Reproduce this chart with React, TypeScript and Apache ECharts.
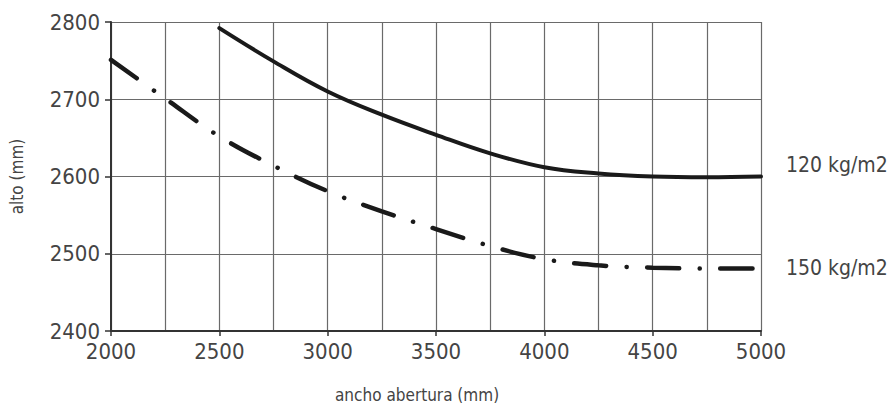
import React, { useEffect, useRef } from "react";
import * as echarts from "echarts";

const xValues120 = [2500, 2750, 3000, 3250, 3500, 3750, 4000, 4250, 4500, 4750, 5000];
const yValues120 = [2792, 2749, 2710, 2680, 2654, 2630, 2612, 2604, 2600, 2599, 2600];
const xValues150 = [2000, 2250, 2500, 2750, 3000, 3250, 3500, 3750, 4000, 4250, 4500, 4750, 5000];
const yValues150 = [2751, 2701, 2652, 2614, 2581, 2555, 2532, 2510, 2493, 2485, 2482, 2481, 2481];
const seriesNames = ["120 kg/m2", "150 kg/m2"];
const xAxisName = "ancho abertura (mm)";
const yAxisName = "alto (mm)";

const FONT = "'DejaVu Sans Condensed', 'Liberation Sans Narrow', 'Liberation Sans', sans-serif";
const TEXT = "#444";
const GRID = "#6a6a6a";
const LINE = "#1a1a1a";

export default function App() {
  const ref = useRef<HTMLDivElement>(null);
  useEffect(() => {
    if (!ref.current) return;
    const chart = echarts.init(ref.current, null, { renderer: "svg" });
    const d120 = xValues120.map((x, i) => [x, yValues120[i]]);
    const d150 = xValues150.map((x, i) => [x, yValues150[i]]);
    chart.setOption({
      animation: false,
      backgroundColor: "#fff",
      grid: { left: 111, right: 135, top: 22, bottom: 78, containLabel: false },
      xAxis: {
        type: "value",
        min: 2000,
        max: 5000,
        interval: 500,
        axisLine: { show: true, onZero: false, lineStyle: { color: "#333", width: 2 } },
        axisTick: { show: true, length: 5, lineStyle: { color: "#333", width: 1.5 } },
        axisLabel: { color: TEXT, fontSize: 22, fontFamily: FONT, margin: 9, formatter: (v: number) => String(v) },
        splitLine: { show: true, lineStyle: { color: GRID, width: 1.2 } },
        minorTick: { show: false, splitNumber: 2 },
        minorSplitLine: { show: true, lineStyle: { color: GRID, width: 1.2 } },
      },
      yAxis: {
        type: "value",
        min: 2400,
        max: 2800,
        interval: 100,
        name: yAxisName,
        nameLocation: "middle",
        nameGap: 86,
        nameTextStyle: { color: TEXT, fontSize: 17, fontFamily: FONT },
        axisLine: { show: true, lineStyle: { color: "#333", width: 2 } },
        axisTick: { show: true, length: 6, lineStyle: { color: "#333", width: 1.5 } },
        axisLabel: { color: TEXT, fontSize: 22, fontFamily: FONT, margin: 11, formatter: (v: number) => String(v) },
        splitLine: { show: true, lineStyle: { color: GRID, width: 1.2 } },
      },
      graphic: [
        {
          type: "text",
          left: 335,
          top: 386,
          style: { text: xAxisName, fill: TEXT, fontSize: 17, fontFamily: FONT },
        },
      ],
      series: [
        {
          name: seriesNames[0],
          type: "line",
          data: d120,
          smooth: 0.4,
          showSymbol: false,
          lineStyle: { color: LINE, width: 4, cap: "round" },
          endLabel: {
            show: true,
            formatter: seriesNames[0],
            color: TEXT,
            fontSize: 21,
            fontFamily: FONT,
            distance: 25,
            offset: [0, -12],
          },
        },
        {
          name: seriesNames[1],
          type: "line",
          data: d150,
          smooth: 0.4,
          showSymbol: false,
          lineStyle: { color: LINE, width: 4.5, cap: "round", type: [32, 20.5, 0.1, 20.5] },
          endLabel: {
            show: true,
            formatter: seriesNames[1],
            color: TEXT,
            fontSize: 21,
            fontFamily: FONT,
            distance: 25,
          },
        },
      ],
    });
    return () => chart.dispose();
  }, []);
  return <div ref={ref} style={{ position: "fixed", left: 0, top: 0, width: 896, height: 409 }} />;
}
